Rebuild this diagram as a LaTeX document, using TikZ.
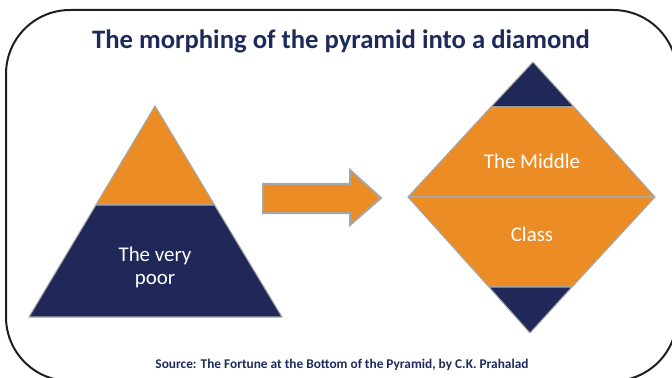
\documentclass[tikz,border=0pt]{standalone}
\usepackage{fontspec}
\setmainfont{Carlito}
\definecolor{pyrorange}{HTML}{EC8C24}
\definecolor{pyrnavy}{HTML}{1F2858}
\definecolor{titlenavy}{HTML}{1F2A5C}
\definecolor{edgegray}{HTML}{A6A6A6}
\begin{document}
\begin{tikzpicture}[x=0.75pt,y=-0.75pt,
  frame/.style={draw=black!88,line width=1.5pt,rounded corners=48pt},
  band/.style={draw=edgegray,line width=0.8pt,line join=round},
  orangeband/.style={band,fill=pyrorange},
  navyband/.style={band,fill=pyrnavy},
  divider/.style={draw=edgegray,line width=1.5pt},
  blockarrow/.style={draw=edgegray,line width=1.5pt,fill=pyrorange,line join=miter},
  title/.style={font=\fontsize{20}{24}\selectfont\bfseries,text=titlenavy,inner sep=0pt},
  source/.style={font=\fontsize{10}{12}\selectfont\bfseries,text=titlenavy,inner sep=0pt},
  layerlabel/.style={font=\fontsize{15.7}{17.25}\selectfont,text=white,align=center,inner sep=0pt}]
\useasboundingbox (0,0) rectangle (672,378);
\clip (0,0) rectangle (672,378);

% outer rounded frame
\draw[frame] (6,10) rectangle (677,381);

% heading
\node[title,anchor=base] (heading) at (341,49) {The morphing of the pyramid into a diamond};

% pyramid: small apex, wide base
\filldraw[orangeband] (155,106) -- (95.9,205) -- (214.6,205) -- cycle;
\filldraw[navyband] (95.9,205) -- (29,317) -- (282,317) -- (214.6,205) -- cycle;
\node[layerlabel,anchor=base] (verypoor) at (155,284) {The very\\poor};

% transformation arrow
\filldraw[blockarrow] (263,184) -- (350,184) -- (350,170) -- (381,198)
  -- (350,225) -- (350,213) -- (263,213) -- cycle;

% diamond: narrow top and bottom, wide middle
\filldraw[navyband] (533,62) -- (491,107) -- (574,107) -- cycle;
\filldraw[orangeband] (491,107) -- (408,197) -- (655,197) -- (574,107) -- cycle;
\filldraw[orangeband] (408,197) -- (489,287) -- (572,287) -- (655,197) -- cycle;
\filldraw[navyband] (489,287) -- (530,333) -- (572,287) -- cycle;
\draw[divider] (408,197) -- (655,197);
\node[layerlabel,anchor=base] (middle) at (532,169) {The Middle};
\node[layerlabel,anchor=base] (class) at (532,241) {Class};

% citation
\node[source,anchor=base] (citation) at (342,368) {Source: The Fortune at the Bottom of the Pyramid, by C.K. Prahalad};
\end{tikzpicture}
\end{document}
